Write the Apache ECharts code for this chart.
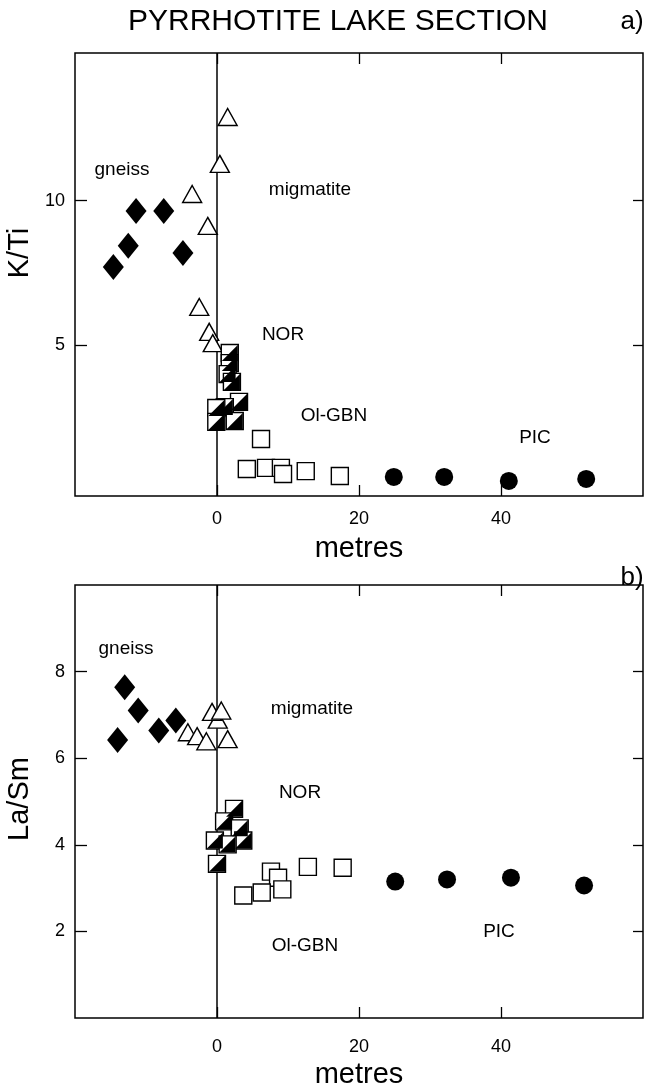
<!DOCTYPE html>
<html>
<head>
<meta charset="utf-8">
<script src="https://cdn.jsdelivr.net/npm/echarts@6/dist/echarts.min.js"></script>
<style>
  html, body { margin: 0; padding: 0; background: #fff; }
  #chart { width: 646px; height: 1090px; }
</style>
</head>
<body>
<div id="chart"></div>
<script>
// ---- data: [metres, value] ----
// a) K/Ti
var gneissKTi = [[-14.6, 7.71], [-12.5, 8.44], [-11.4, 9.64], [-7.5, 9.64], [-4.8, 8.19]];
var migKTi = [[1.5, 12.89], [0.4, 11.27], [-3.5, 10.23], [-1.3, 9.13], [-2.5, 6.33], [-1.1, 5.47], [-0.6, 5.08]];
var norKTi = [[1.8, 4.74], [1.8, 4.39], [1.5, 4.01], [2.1, 3.74], [3.1, 3.05], [1.1, 2.87], [-0.1, 2.84], [-0.1, 2.36], [2.5, 2.39]];
var gbnKTi = [[6.2, 1.77], [4.2, 0.73], [6.9, 0.77], [9.0, 0.77], [9.3, 0.56], [12.5, 0.66], [17.3, 0.49]];
var picKTi = [[24.9, 0.46], [32.0, 0.46], [41.1, 0.32], [52.0, 0.39]];

// b) La/Sm
var gneissLaSm = [[-13.0, 7.64], [-11.1, 7.10], [-5.8, 6.87], [-8.2, 6.64], [-14.0, 6.42]];
var migLaSm = [[0.1, 6.89], [-0.7, 7.07], [0.6, 7.10], [-4.1, 6.60], [-2.8, 6.51], [-1.5, 6.39], [1.5, 6.44]];
var norLaSm = [[2.4, 4.83], [1.0, 4.54], [3.2, 4.38], [3.7, 4.10], [-0.3, 4.10], [1.5, 4.01], [0.0, 3.56]];
var gbnLaSm = [[7.6, 3.38], [8.6, 3.24], [9.2, 2.97], [6.3, 2.90], [3.7, 2.83], [12.8, 3.49], [17.7, 3.47]];
var picLaSm = [[25.1, 3.15], [32.4, 3.20], [41.4, 3.24], [51.7, 3.06]];

var xTicks = [0, 20, 40];
var yTicksKTi = [5, 10];
var yTicksLaSm = [2, 4, 6, 8];

var FONT = 'Liberation Sans, Arial, sans-serif';
var INK = '#000';

function xAxes(grid, gap, nameGap) {
	return [{
		gridIndex: grid, type: 'value', position: 'bottom', min: -20, max: 60,
		axisLine: { show: false, onZero: false }, splitLine: { show: false },
		axisTick: { inside: true, length: 11, customValues: xTicks, lineStyle: { color: INK, width: 1.3 } },
		axisLabel: { customValues: xTicks, margin: gap, fontSize: 18, color: INK, fontFamily: FONT },
		name: 'metres', nameLocation: 'middle', nameGap: nameGap,
		nameTextStyle: { fontSize: 29, color: INK, fontFamily: FONT }
	}, {
		gridIndex: grid, type: 'value', position: 'top', min: -20, max: 60,
		axisLine: { show: false, onZero: false }, splitLine: { show: false }, axisLabel: { show: false },
		axisTick: { inside: true, length: 11, customValues: xTicks, lineStyle: { color: INK, width: 1.3 } }
	}];
}

function yAxes(grid, min, max, ticks) {
	return [{
		gridIndex: grid, type: 'value', position: 'left', min: min, max: max,
		axisLine: { show: false, onZero: false }, splitLine: { show: false },
		axisTick: { inside: true, length: 12, customValues: ticks, lineStyle: { color: INK, width: 1.3 } },
		axisLabel: { customValues: ticks, margin: 10, fontSize: 18, color: INK, fontFamily: FONT }
	}, {
		gridIndex: grid, type: 'value', position: 'right', min: min, max: max,
		axisLine: { show: false, onZero: false }, splitLine: { show: false }, axisLabel: { show: false },
		axisTick: { inside: true, length: 10, customValues: ticks, lineStyle: { color: INK, width: 1.3 } }
	}];
}

function panelSeries(grid, gneiss, mig, nor, gbn, pic) {
	var xi = grid * 2, yi = grid * 2;
	var open = { color: '#fff', borderColor: INK, borderWidth: 1.4, opacity: 1 };
	var solid = { color: INK, opacity: 1 };
	return [
		{ type: 'scatter', xAxisIndex: xi, yAxisIndex: yi, data: gneiss, symbol: 'diamond', symbolSize: [21, 26],
		  itemStyle: solid, z: 3,
		  markLine: { silent: true, symbol: ['none', 'none'], label: { show: false }, z: 1,
		              lineStyle: { type: 'solid', color: INK, width: 1.5 }, data: [{ xAxis: 0 }] } },
		{ type: 'scatter', xAxisIndex: xi, yAxisIndex: yi, data: mig, symbol: 'triangle', symbolSize: [19, 17],
		  itemStyle: open, z: 3 },
		{ type: 'scatter', xAxisIndex: xi, yAxisIndex: yi, data: nor, symbol: 'rect', symbolSize: 17,
		  itemStyle: open, z: 3 },
		{ type: 'scatter', xAxisIndex: xi, yAxisIndex: yi, data: nor, symbol: 'path://M10,0L10,10L0,10Z', symbolSize: 16,
		  itemStyle: solid, z: 4 },
		{ type: 'scatter', xAxisIndex: xi, yAxisIndex: yi, data: gbn, symbol: 'rect', symbolSize: 17,
		  itemStyle: open, z: 3 },
		{ type: 'scatter', xAxisIndex: xi, yAxisIndex: yi, data: pic, symbol: 'circle', symbolSize: 18,
		  itemStyle: solid, z: 3 }
	];
}

function txt(x, y, s, size, rot) {
	return { type: 'text', x: x, y: y, rotation: rot || 0, silent: true,
	         style: { text: s, fontSize: size, fill: INK, fontFamily: FONT, align: 'center', verticalAlign: 'middle' } };
}

var chart = echarts.init(document.getElementById('chart'));
var option = {
	animation: false,
	backgroundColor: '#fff',
	grid: [
		{ left: 75, top: 53, width: 568, height: 443, show: true, borderColor: INK, borderWidth: 1.5 },
		{ left: 75, top: 585, width: 568, height: 441, show: true, borderColor: INK, borderWidth: 1.5 }
	],
	xAxis: xAxes(0, 14, 38).concat(xAxes(1, 20, 42)),
	yAxis: yAxes(0, -0.2, 15.1, yTicksKTi).concat(yAxes(1, 0, 10, yTicksLaSm)),
	series: panelSeries(0, gneissKTi, migKTi, norKTi, gbnKTi, picKTi)
		.concat(panelSeries(1, gneissLaSm, migLaSm, norLaSm, gbnLaSm, picLaSm)),
	graphic: [
		txt(338, 22, 'PYRRHOTITE LAKE SECTION', 30),
		txt(632, 22, 'a)', 26),
		txt(632, 578, 'b)', 26),
		txt(20, 253, 'K/Ti', 29, Math.PI / 2),
		txt(20, 799, 'La/Sm', 29, Math.PI / 2),
		// panel a labels
		txt(122, 170, 'gneiss', 19),
		txt(310, 190, 'migmatite', 19),
		txt(283, 335, 'NOR', 19),
		txt(334, 416, 'Ol-GBN', 19),
		txt(535, 438, 'PIC', 19),
		// panel b labels
		txt(126, 649, 'gneiss', 19),
		txt(312, 709, 'migmatite', 19),
		txt(300, 793, 'NOR', 19),
		txt(305, 946, 'Ol-GBN', 19),
		txt(499, 932, 'PIC', 19)
	]
};
chart.setOption(option);
</script>
</body>
</html>
